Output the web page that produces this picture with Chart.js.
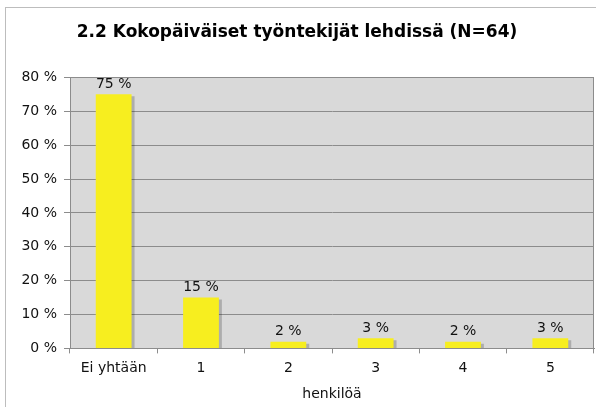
<!DOCTYPE html>
<html><head><meta charset="utf-8">
<script src="https://cdn.jsdelivr.net/npm/chart.js@4"></script>
<style>
html,body{margin:0;padding:0;background:#fff;}
#wrap{position:relative;width:596px;height:407px;}
#frame{position:absolute;left:5px;top:7px;width:600px;height:410px;border:1px solid #bdbdbd;box-sizing:border-box;}
canvas{position:absolute;left:0;top:0;}
</style></head>
<body><div id="wrap"><div id="frame"></div><canvas id="c" width="596" height="407"></canvas></div>
<script>
const titleText = '2.2 Kokopäiväiset työntekijät lehdissä (N=64)';
const categories = ['Ei yhtään', '1', '2', '3', '4', '5'];
const values = [75, 15, 2, 3, 2, 3];
const valueLabels = ['75 %', '15 %', '2 %', '3 %', '2 %', '3 %'];
const xAxisTitle = 'henkilöä';

const FONT = "'DejaVu Sans', Verdana, sans-serif";

const bgPlugin = {
  id: 'bg',
  beforeDraw(chart) {
    const {ctx, chartArea: a} = chart;
    ctx.save();
    ctx.fillStyle = '#d9d9d9';
    ctx.fillRect(a.left, a.top, a.right - a.left, a.bottom - a.top);
    ctx.restore();
  },
  afterDatasetsDraw(chart) {
    const {ctx, chartArea: a} = chart;
    ctx.save();
    ctx.strokeStyle = '#8c8c8c';
    ctx.lineWidth = 1;
    ctx.strokeRect(Math.round(a.left) + 0.5, Math.round(a.top) + 0.5, Math.round(a.right - a.left) - 1, Math.round(a.bottom - a.top));
    ctx.restore();
  }
};

const shadowPlugin = {
  id: 'shadow',
  beforeDatasetDraw(chart) {
    const ctx = chart.ctx;
    ctx.save();
    ctx.shadowColor = 'rgba(0,0,0,0.2)';
    ctx.shadowOffsetX = 3;
    ctx.shadowOffsetY = 2;
    ctx.shadowBlur = 0;
  },
  afterDatasetDraw(chart) {
    chart.ctx.restore();
  }
};

const labelPlugin = {
  id: 'vlabels',
  afterDatasetsDraw(chart) {
    const {ctx} = chart;
    const meta = chart.getDatasetMeta(0);
    ctx.save();
    ctx.font = '14px ' + FONT;
    ctx.fillStyle = '#111';
    ctx.textAlign = 'center';
    ctx.textBaseline = 'bottom';
    meta.data.forEach((bar, i) => {
      ctx.fillText(valueLabels[i], bar.x, bar.y - 3);
    });
    ctx.restore();
  }
};

new Chart(document.getElementById('c'), {
  type: 'bar',
  data: {
    labels: categories,
    datasets: [{
      data: values,
      backgroundColor: '#f7ee1f',
      borderWidth: 0,
      categoryPercentage: 0.82,
      barPercentage: 0.5
    }]
  },
  options: {
    responsive: false,
    animation: false,
    devicePixelRatio: 1,
    layout: {padding: {left: 0, right: 2, top: 0, bottom: 4}},
    plugins: {
      legend: {display: false},
      tooltip: {enabled: false},
      title: {
        display: true,
        text: titleText,
        color: '#000',
        font: {family: FONT, size: 17, weight: 'bold'},
        padding: {top: 22, bottom: 35}
      }
    },
    scales: {
      y: {
        min: 0, max: 80,
        afterFit(s) { s.width = 70; },
        ticks: {
          stepSize: 10,
          color: '#111',
          font: {family: FONT, size: 14},
          padding: 7,
          callback: v => v + ' %'
        },
        grid: {color: '#8c8c8c', tickLength: 6, lineWidth: 1},
        border: {display: true, color: '#8c8c8c'}
      },
      x: {
        ticks: {color: '#111', font: {family: FONT, size: 14}, padding: 7},
        grid: {drawOnChartArea: false, color: '#8c8c8c', tickLength: 5, offset: true},
        border: {display: true, color: '#8c8c8c'},
        title: {display: true, text: xAxisTitle, color: '#111', font: {family: FONT, size: 14}, padding: {top: 2, bottom: 0}}
      }
    }
  },
  plugins: [bgPlugin, shadowPlugin, labelPlugin]
});
</script></body></html>
